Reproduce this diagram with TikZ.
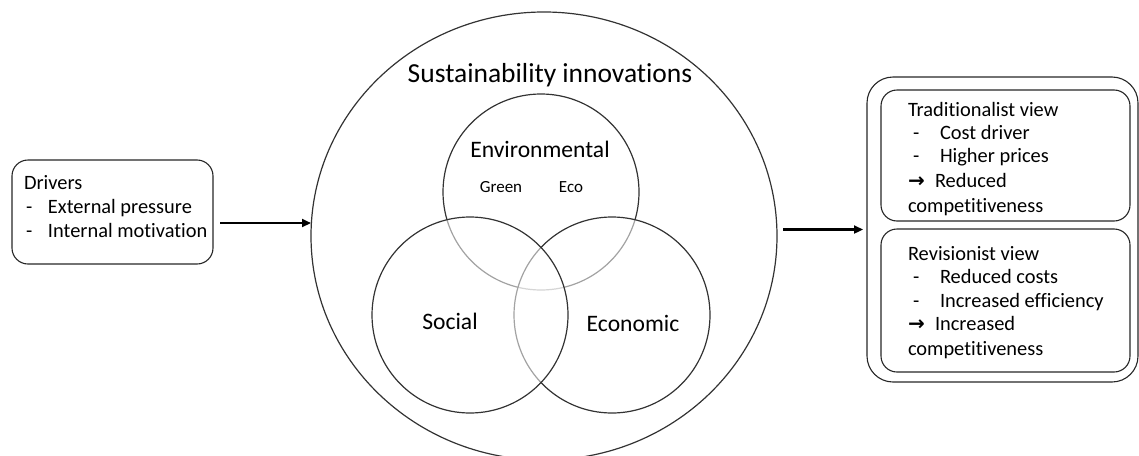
\documentclass[tikz,border=0pt]{standalone}
\usepackage{fontspec}
\setmainfont{Carlito}[Ligatures=NoCommon]
\newfontfamily\arrowfont{DejaVu Sans}
\usetikzlibrary{shapes.geometric,arrows.meta}
\newcommand{\resultarrow}{\makebox[27pt][l]{\arrowfont\bfseries\fontsize{20}{24}\selectfont →}}
\begin{document}
\begin{tikzpicture}[x=1pt,y=-1pt,
  every node/.style={inner sep=0pt, outer sep=0pt},
  box/.style={draw=black!85, line width=1.1pt, rounded corners=16pt},
  ring/.style={draw=black!80, line width=1.2pt, circle, minimum size=196pt,
    fill=white, fill opacity=0.55, text opacity=1},
  txt/.style={anchor=base west, font=\fontsize{20.4}{24}\selectfont},
  lbl/.style={anchor=base, font=\fontsize{23.6}{28}\selectfont},
  small/.style={anchor=base, font=\fontsize{17}{20}\selectfont},
  arr/.style={line width=2.2pt, -{Triangle[length=9pt,width=8pt]}},
]
\useasboundingbox (0,0) rectangle (1139,455);
\clip (0,0) rectangle (1139,455);

% drivers
\node[box, minimum width=201pt, minimum height=104pt] (drv) at (112.5,212) {};
\node[txt] (d0) at (24,189) {Drivers};
\node[txt] (d1) at (24,213) {\makebox[24pt][l]{\hspace{2pt}-}External pressure};
\node[txt] (d2) at (24,237) {\makebox[24pt][l]{\hspace{2pt}-}Internal motivation};

% sustainability innovations
\node[draw=black!80, line width=1.2pt, ellipse, minimum width=466pt,
  minimum height=448pt] (si) at (544,236) {};
\node[anchor=base, font=\fontsize{27.5}{32}\selectfont] (sitxt) at (550,82)
  {Sustainability innovations};

% three pillars, later circles veil earlier outlines
\node[ring] (env) at (541,192) {};
\node[ring] (eco) at (612,315) {};
\node[ring] (soc) at (470,315) {};
\node[lbl] (envtxt) at (540,157) {Environmental};
\node[small] (green) at (501,192) {Green};
\node[small] (ecotag) at (571,192) {Eco};
\node[lbl] (soctxt) at (450,329) {Social};
\node[lbl] (ecotxt) at (633,331) {Economic};

% views
\node[box, rounded corners=26pt, minimum width=271pt, minimum height=305pt]
  (views) at (1002.5,229.5) {};
\node[box, minimum width=249pt, minimum height=131pt] (trad) at (1005.5,155.5) {};
\node[box, minimum width=249pt, minimum height=143pt] (rev) at (1005.5,300.5) {};

\node[txt] (t0) at (908,116) {Traditionalist view};
\node[txt] (t1) at (908,139) {\makebox[32pt][l]{\hspace{5pt}-}Cost driver};
\node[txt] (t2) at (908,162) {\makebox[32pt][l]{\hspace{5pt}-}Higher prices};
\node[txt] (t3) at (908,187) {\resultarrow Reduced};
\node[txt] (t4) at (908,212) {competitiveness};

\node[txt] (r0) at (908,260) {Revisionist view};
\node[txt] (r1) at (908,283) {\makebox[32pt][l]{\hspace{5pt}-}Reduced costs};
\node[txt] (r2) at (908,307) {\makebox[32pt][l]{\hspace{5pt}-}Increased efficiency};
\node[txt] (r3) at (908,330) {\resultarrow Increased};
\node[txt] (r4) at (908,355) {competitiveness};

% flow
\draw[arr] ([xshift=7pt,yshift=-11pt]drv.east) -- ([yshift=13pt]si.west);
\draw[arr] ([xshift=6pt]si.east |- views.west) -- ([xshift=-4pt]views.west);
\end{tikzpicture}
\end{document}
